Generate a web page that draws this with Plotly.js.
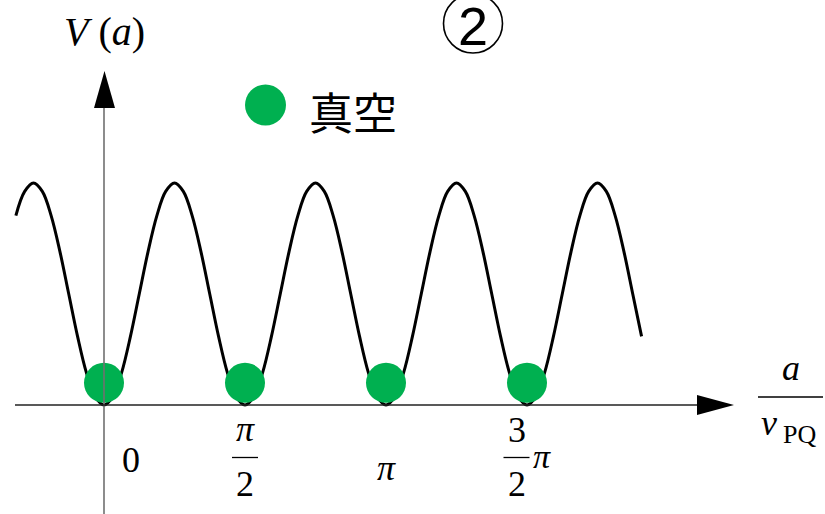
<!DOCTYPE html>
<html>
<head>
<meta charset="utf-8">
<script src="https://cdn.plot.ly/plotly-3.0.1.min.js"></script>
<style>
  html, body { margin: 0; padding: 0; background: #ffffff; }
  #chart { width: 825px; height: 514px; }
</style>
</head>
<body>
<div id="chart"></div>
<script>
// Potential V(a), horizontal coordinate a/v_PQ given in units of pi
const aOverPi = [
  -0.3125, -0.28125, -0.25, -0.21875, -0.1875, -0.15625, -0.125, -0.09375, -0.0625, -0.03125,
  0, 0.03125, 0.0625, 0.09375, 0.125, 0.15625, 0.1875, 0.21875,
  0.25, 0.28125, 0.3125, 0.34375, 0.375, 0.40625, 0.4375, 0.46875,
  0.5, 0.53125, 0.5625, 0.59375, 0.625, 0.65625, 0.6875, 0.71875,
  0.75, 0.78125, 0.8125, 0.84375, 0.875, 0.90625, 0.9375, 0.96875,
  1, 1.03125, 1.0625, 1.09375, 1.125, 1.15625, 1.1875, 1.21875,
  1.25, 1.28125, 1.3125, 1.34375, 1.375, 1.40625, 1.4375, 1.46875,
  1.5, 1.53125, 1.5625, 1.59375, 1.625, 1.65625, 1.6875, 1.71875,
  1.75, 1.78125, 1.8125, 1.84375, 1.875, 1.90625
];
const potential = [
  0.853, 0.962, 1.000, 0.962, 0.853, 0.691, 0.500, 0.309, 0.146, 0.038,
  0.000, 0.038, 0.146, 0.309, 0.500, 0.691, 0.853, 0.962,
  1.000, 0.962, 0.853, 0.691, 0.500, 0.309, 0.146, 0.038,
  0.000, 0.038, 0.146, 0.309, 0.500, 0.691, 0.853, 0.962,
  1.000, 0.962, 0.853, 0.691, 0.500, 0.309, 0.146, 0.038,
  0.000, 0.038, 0.146, 0.309, 0.500, 0.691, 0.853, 0.962,
  1.000, 0.962, 0.853, 0.691, 0.500, 0.309, 0.146, 0.038,
  0.000, 0.038, 0.146, 0.309, 0.500, 0.691, 0.853, 0.962,
  1.000, 0.962, 0.853, 0.691, 0.500, 0.309
];

// Vacuum states (green dots) sitting in the minima
const vacuumA = [0, 0.5, 1, 1.5];
const vacuumV = [0.1, 0.1, 0.1, 0.1];

// Tick labels along the a-axis
const tickPos   = [0, 0.5, 1, 1.5];
const tickPlain = ['0', null, '<i>π</i>', null];
const tickNum   = [null, '<i>π</i>', null, '3'];
const tickDen   = [null, '2', null, '2'];
const tickAfter = [null, null, null, '<i>π</i>'];

const legendLabel = '真空';
const panelNumber = '2';
const yTitle = '<i>V</i> (<i>a</i>)';

const W = 825, H = 514;
const GREEN = '#00b050';
const SERIF = 'Liberation Serif, Times New Roman, serif';
const CJK = 'Noto Sans CJK JP, Noto Sans CJK SC, sans-serif';

// pixel -> paper fraction helpers (margins are zero, so paper == figure)
const px = x => x / W;
const py = y => 1 - y / H;

const traces = [
  {
    x: aOverPi, y: potential, type: 'scatter', mode: 'lines',
    line: { color: '#000000', width: 3, shape: 'spline', smoothing: 1 },
    hoverinfo: 'skip', showlegend: false
  },
  {
    x: vacuumA, y: vacuumV, type: 'scatter', mode: 'markers',
    marker: { color: GREEN, size: 40, line: { width: 0 } },
    hoverinfo: 'skip', showlegend: false, cliponaxis: false
  }
];

const annotations = [];
const shapes = [];

function note(text, xref, x, y, size, extra) {
  annotations.push(Object.assign({
    text: text, xref: xref, yref: 'paper', x: x, y: py(y),
    xanchor: 'center', yanchor: 'middle', showarrow: false,
    font: { family: SERIF, size: size, color: '#000000' }
  }, extra || {}));
}

// tick labels
tickPos.forEach((t, i) => {
  if (tickPlain[i] !== null) {
    const isZero = tickPlain[i] === '0';
    note(tickPlain[i], 'x', t, isZero ? 460 : 468, 36, { xshift: isZero ? 27 : 0 });
  }
  if (tickNum[i] !== null) {
    const shift = tickAfter[i] !== null ? -10.5 : 0;
    note(tickNum[i], 'x', t, tickNum[i] === '3' ? 430 : 429, 36, { xshift: shift });
    note(tickDen[i], 'x', t, 484, 36, { xshift: shift });
    shapes.push({
      type: 'line', xref: 'x', yref: 'paper', xsizemode: 'pixel', xanchor: t,
      x0: shift - 13, x1: shift + 13, y0: py(457.5), y1: py(457.5),
      line: { color: '#000000', width: 1.3 }
    });
  }
  if (tickAfter[i] !== null) {
    note(tickAfter[i], 'x', t, 456, 34, { xshift: 15 });
  }
});

// axis title a / v_PQ
note('<i>a</i>', 'paper', px(791), 368, 36);
shapes.push({ type: 'line', xref: 'paper', yref: 'paper',
  x0: px(758), x1: px(823), y0: py(397), y1: py(397),
  line: { color: '#000000', width: 1.3 } });
note('<i>v</i>', 'paper', px(769), 423, 36);
note('PQ', 'paper', px(799), 434, 26);

// y title
note(yTitle, 'paper', px(105), 31, 40);

// legend: dot + label
shapes.push({ type: 'circle', xref: 'paper', yref: 'paper',
  x0: px(245), x1: px(286), y0: py(84.5), y1: py(125.5),
  fillcolor: GREEN, line: { width: 0 } });
annotations.push({ text: legendLabel, xref: 'paper', yref: 'paper',
  x: px(353), y: py(111), xanchor: 'center', yanchor: 'middle', showarrow: false,
  font: { family: CJK, size: 44, color: '#000000' } });

// circled panel number
shapes.push({ type: 'circle', xref: 'paper', yref: 'paper',
  x0: px(443.5), x1: px(502.5), y0: py(-6), y1: py(53),
  line: { color: '#000000', width: 1.6 } });
annotations.push({ text: panelNumber, xref: 'paper', yref: 'paper',
  x: px(473), y: py(26), xanchor: 'center', yanchor: 'middle', showarrow: false,
  font: { family: 'Liberation Sans, Arial, sans-serif', size: 54, color: '#000000' } });

// axes with arrowheads
shapes.push({ type: 'line', xref: 'x', yref: 'paper',
  x0: 0, x1: 0, y0: py(514), y1: py(105),
  line: { color: '#707070', width: 1.6 } });
shapes.push({ type: 'path', xref: 'paper', yref: 'paper',
  path: `M ${px(104.5)} ${py(71)} L ${px(115)} ${py(108)} L ${px(94)} ${py(108)} Z`,
  fillcolor: '#000000', line: { width: 0 } });
shapes.push({ type: 'line', xref: 'paper', yref: 'y',
  x0: px(15), x1: px(700), y0: 0, y1: 0,
  line: { color: '#222222', width: 1.6 } });
shapes.push({ type: 'path', xref: 'paper', yref: 'paper',
  path: `M ${px(734)} ${py(405)} L ${px(697)} ${py(395)} L ${px(697)} ${py(415)} Z`,
  fillcolor: '#000000', line: { width: 0 } });

const layout = {
  width: W, height: H,
  margin: { l: 0, r: 0, t: 0, b: 0, pad: 0 },
  paper_bgcolor: '#ffffff', plot_bgcolor: '#ffffff',
  showlegend: false,
  xaxis: { visible: false, range: [-104 / 282, (W - 104) / 282], fixedrange: true },
  yaxis: { visible: false, range: [(405 - H) / 222, 405 / 222], fixedrange: true },
  shapes: shapes,
  annotations: annotations
};

Plotly.newPlot('chart', traces, layout, { displayModeBar: false, staticPlot: true });
</script>
</body>
</html>
